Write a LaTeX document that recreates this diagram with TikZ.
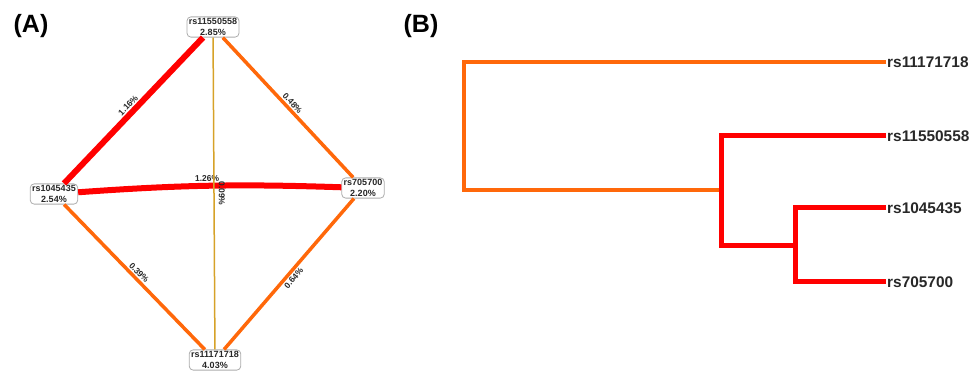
\documentclass[tikz,border=0pt]{standalone}
\usepackage{fontspec}
\setmainfont{Liberation Sans}
\definecolor{snpred}{RGB}{255,0,0}
\definecolor{snporange}{RGB}{255,104,10}
\definecolor{snpgold}{RGB}{214,162,40}
\definecolor{txtgray}{RGB}{40,40,40}
\begin{document}
\begin{tikzpicture}[x=1pt,y=-1pt,
  snp/.style={draw=gray!65, rounded corners=4pt, fill=white, line width=0.8pt,
    align=center, font=\fontsize{9}{11.5}\selectfont\bfseries, text=txtgray,
    inner xsep=2pt, inner ysep=1.2pt},
  elabeltext/.style={font=\fontsize{8.5}{9}\selectfont\bfseries, text=txtgray, inner sep=1.5pt},
  elabel/.style={elabeltext, sloped},
  redge/.style={draw=snpred, line width=6pt},
  oedge/.style={draw=snporange, line width=3.5pt},
  yedge/.style={draw=snpgold, line width=1.5pt},
  leaf/.style={font=\fontsize{15.4}{16}\selectfont\bfseries, text=txtgray, inner sep=1pt, anchor=west},
  dorange/.style={draw=snporange, line width=4.5pt, line join=miter},
  dred/.style={draw=snpred, line width=5pt, line join=miter},
  panel/.style={font=\fontsize{25}{25}\selectfont\bfseries, text=black}
]
\useasboundingbox (0,0) rectangle (975,371);

% Panel labels
\node[panel] (pa) at (31,26) {(A)};
\node[panel] (pb) at (421,26) {(B)};

% Panel A nodes
\node[snp] (n1) at (213,27) {rs11550558\\2.85\%};
\node[snp] (n2) at (54,194) {rs1045435\\2.54\%};
\node[snp] (n3) at (363,188) {rs705700\\2.20\%};
\node[snp] (n4) at (215,360) {rs11171718\\4.03\%};

% Panel A edges
\draw[oedge] (n1) -- node[elabel, above] {0.48\%} (n3);
\draw[oedge] (n2) -- node[elabel, above] {0.39\%} (n4);
\draw[oedge] (n3) -- node[elabel, below] {0.64\%} (n4);
\draw[redge] (n1) -- node[elabel, above] {1.16\%} (n2);
\draw[redge] (n2) to[bend left=3] node[elabel, above, pos=0.49] {1.26\%} (n3);
\draw[yedge] (n1) -- node[elabeltext, rotate=-90, anchor=south, inner ysep=4pt, pos=0.5] {0.09\%} (n4);

% Panel B dendrogram
\node[leaf] (l1) at (886,62) {rs11171718};
\node[leaf] (l2) at (886,136) {rs11550558};
\node[leaf] (l3) at (886,208) {rs1045435};
\node[leaf] (l4) at (886,282) {rs705700};

\coordinate (root) at (464,190);
\coordinate (j1) at (721,190);
\coordinate (j2) at (795,246);

\draw[dorange] (l1.west) -| (root) -- (j1);
\draw[dred] (l2.west) -| (j1) |- (j2);
\draw[dred] (l3.west) -| (j2) |- (l4.west);
\end{tikzpicture}
\end{document}
